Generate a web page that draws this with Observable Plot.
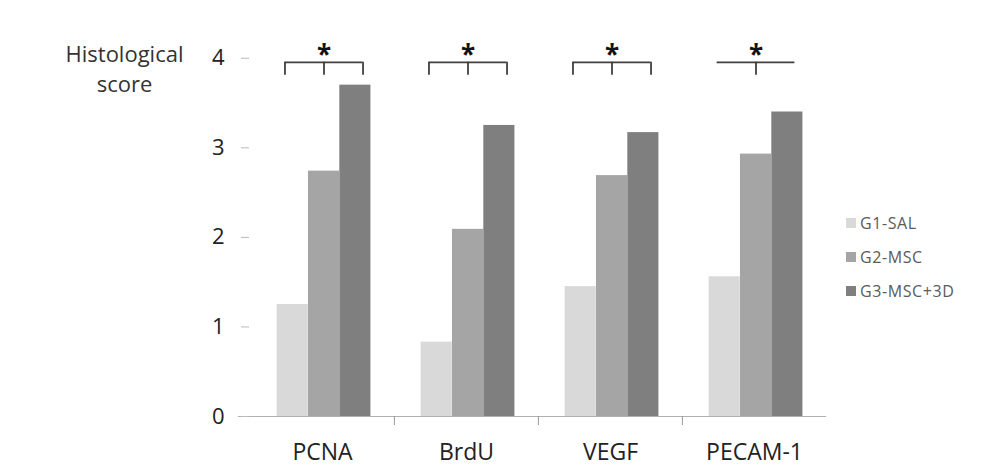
<!DOCTYPE html>
<html><head><meta charset="utf-8">
<script src="https://cdn.jsdelivr.net/npm/d3@7"></script>
<script src="https://cdn.jsdelivr.net/npm/@observablehq/plot@0.6"></script>
<style>
body{margin:0;background:#fff;font-family:"Open Sans",sans-serif;}
#wrap{position:relative;width:987px;height:470px;}
#legend{position:absolute;left:846px;top:206px;font-size:16px;color:#5a5a5a;letter-spacing:0.6px;}
.item{display:flex;align-items:center;height:34px;}
.sw{width:10px;height:10px;margin-right:4px;}
</style></head><body><div id="wrap"></div>
<script>
const categories = ["PCNA", "BrdU", "VEGF", "PECAM-1"];
const series = ["G1-SAL", "G2-MSC", "G3-MSC+3D"];
const colors = ["#d9d9d9", "#a5a5a5", "#7f7f7f"];
const g1Values = [1.25, 0.83, 1.45, 1.56];
const g2Values = [2.74, 2.09, 2.69, 2.93];
const g3Values = [3.70, 3.25, 3.17, 3.40];
const yTicks = [0, 1, 2, 3, 4];
const stars = ["*", "*", "*", "*"];
const bracketEnds = [true, true, true, false];
const yLabel = "Histological\nscore";
const bracketY = 3.955, bracketTickY = 3.81, starY = 4.03;

const W = 987, H = 470, mL = 249, mR = 161, mT = 13, mB = 54;
const bw = (W - mL - mR) / categories.length;
const inner = d3.scaleBand().domain(series).range([0, bw]).paddingInner(0).paddingOuter(0.8).align(0.53);
const valuesBySeries = [g1Values, g2Values, g3Values];
const rows = series.flatMap((s, j) => categories.map((c, i) => ({category: c, series: s, value: valuesBySeries[j][i]})));
const annot = categories.map((c, i) => ({category: c, star: stars[i], ends: bracketEnds[i]}));

const leftEdge = inner(series[0]) + 8;
const rightEdge = inner(series[2]) + inner.bandwidth() - 8;
const midC = inner(series[1]) + inner.bandwidth() / 2;

const barMarks = series.map((s, j) => Plot.barY(rows.filter(r => r.series === s), {
  x: "category", y: "value", fill: colors[j],
  insetLeft: inner(s), insetRight: bw - inner(s) - inner.bandwidth()
}));

const chart = Plot.plot({
  width: W, height: H, marginLeft: mL, marginRight: mR, marginTop: mT, marginBottom: mB,
  style: {fontFamily: "Open Sans", background: "#fff"},
  x: {domain: categories, padding: 0},
  y: {domain: [0, 4.5]},
  marks: [
    ...barMarks,
    Plot.ruleY([0], {stroke: "#b0b0b0", insetLeft: -11}),
    Plot.ruleX(categories.slice(1), {x: d => d, y1: 0, y2: 0, insetBottom: -9, dx: -bw / 2, stroke: "#999"}),
    Plot.ruleY(annot, {x1: "category", x2: "category", y: () => bracketY, insetLeft: leftEdge, insetRight: bw - rightEdge, stroke: "#404040", strokeWidth: 1.8}),
    Plot.ruleX(annot.filter(d => d.ends), {x: "category", y1: () => bracketTickY, y2: () => bracketY, dx: leftEdge - bw / 2, stroke: "#404040", strokeWidth: 1.8}),
    Plot.ruleX(annot.filter(d => d.ends), {x: "category", y1: () => bracketTickY, y2: () => bracketY, dx: rightEdge - bw / 2, stroke: "#404040", strokeWidth: 1.8}),
    Plot.ruleX(annot, {x: "category", y1: () => bracketTickY, y2: () => bracketY, dx: midC - bw / 2, stroke: "#404040", strokeWidth: 1.8}),
    Plot.text(annot, {x: "category", y: () => starY, text: "star", dx: midC - bw / 2, fontSize: 26, fontWeight: "bold", fill: "#111", lineAnchor: "middle"}),
    Plot.axisX({tickSize: 0, tickPadding: 27, fontSize: 23, fill: "#222", label: null}),
    Plot.axisY({ticks: yTicks, tickFormat: d3.format("d"), tickSize: 8, tickPadding: 17, fontSize: 22, stroke: "#bbb", fill: "#222", label: null}),
    Plot.text([yLabel], {frameAnchor: "top-left", text: d => d, dx: -125, dy: 27, textAnchor: "middle", lineAnchor: "top", fontSize: 22, lineHeight: 1.36, fill: "#333"})
  ]
});
const wrap = document.getElementById("wrap");
wrap.appendChild(chart);
const legend = document.createElement("div");
legend.id = "legend";
series.forEach((s, j) => {
  const it = document.createElement("div"); it.className = "item";
  const sw = document.createElement("span"); sw.className = "sw"; sw.style.background = colors[j];
  const t = document.createElement("span"); t.textContent = s;
  it.appendChild(sw); it.appendChild(t); legend.appendChild(it);
});
wrap.appendChild(legend);
</script></body></html>
